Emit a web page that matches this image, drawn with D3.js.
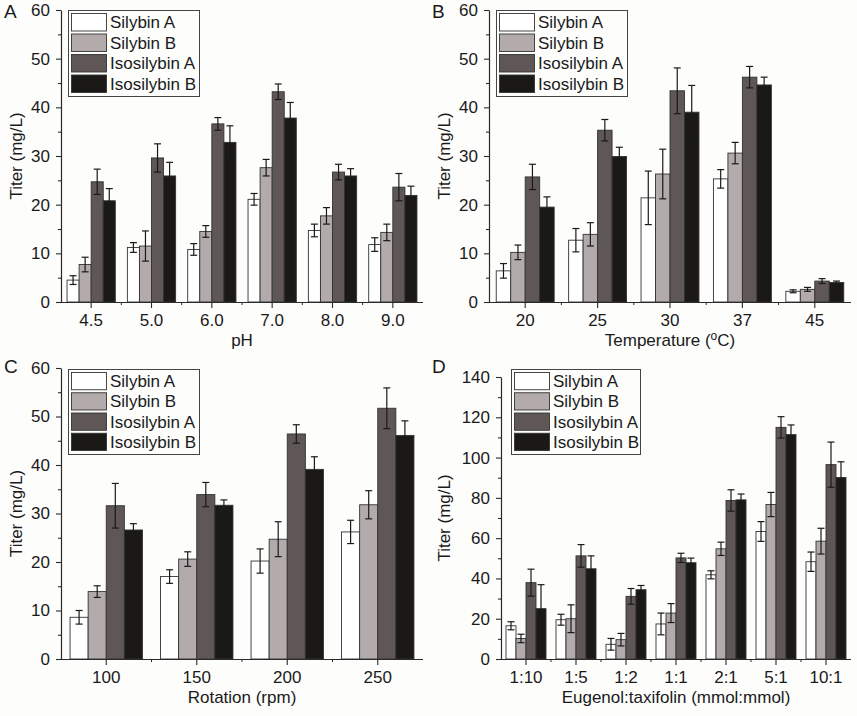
<!DOCTYPE html>
<html>
<head>
<meta charset="utf-8">
<script src="https://cdn.jsdelivr.net/npm/d3@7"></script>
<style>
  html, body { margin: 0; padding: 0; background: #fdfdfc; }
  svg { display: block; font-family: Arial, "Liberation Sans", sans-serif; }
</style>
</head>
<body>
<svg id="chart" width="857" height="716"></svg>
<script>
// ---------- DATA ----------
const seriesNames = ["Silybin A", "Silybin B", "Isosilybin A", "Isosilybin B"];
const seriesColors = ["#ffffff", "#b3abab", "#5f5756", "#1b1915"];

// Panel A: pH
const catsA = ["4.5", "5.0", "6.0", "7.0", "8.0", "9.0"];
const silybinA_A = [4.5, 11.2, 10.8, 21.1, 14.7, 11.8];
const silybinB_A = [7.7, 11.5, 14.5, 27.6, 17.7, 14.3];
const isoA_A     = [24.7, 29.6, 36.6, 43.2, 26.7, 23.6];
const isoB_A     = [20.8, 25.9, 32.8, 37.8, 25.9, 21.9];
const errSA_A = [0.9, 1.0, 1.2, 1.2, 1.3, 1.4];
const errSB_A = [1.5, 3.1, 1.2, 1.7, 1.7, 1.7];
const errIA_A = [2.6, 2.9, 1.3, 1.6, 1.6, 2.8];
const errIB_A = [2.5, 2.8, 3.4, 3.2, 1.5, 1.9];

// Panel B: Temperature
const catsB = ["20", "25", "30", "37", "45"];
const silybinA_B = [6.4, 12.7, 21.4, 25.3, 2.2];
const silybinB_B = [10.2, 13.9, 26.3, 30.6, 2.6];
const isoA_B     = [25.7, 35.3, 43.4, 46.2, 4.3];
const isoB_B     = [19.5, 29.9, 39.0, 44.6, 4.0];
const errSA_B = [1.5, 2.4, 5.5, 1.9, 0.3];
const errSB_B = [1.5, 2.4, 5.1, 2.2, 0.4];
const errIA_B = [2.6, 2.2, 4.7, 2.2, 0.5];
const errIB_B = [2.1, 1.9, 5.5, 1.6, 0.3];

// Panel C: Rotation
const catsC = ["100", "150", "200", "250"];
const silybinA_C = [8.6, 17.0, 20.2, 26.2];
const silybinB_C = [13.9, 20.6, 24.7, 31.8];
const isoA_C     = [31.6, 33.9, 46.4, 51.7];
const isoB_C     = [26.6, 31.7, 39.1, 46.1];
const errSA_C = [1.4, 1.4, 2.5, 2.4];
const errSB_C = [1.2, 1.5, 3.6, 2.9];
const errIA_C = [4.6, 2.5, 1.9, 4.2];
const errIB_C = [1.3, 1.1, 2.6, 3.0];

// Panel D: Eugenol:taxifolin
const catsD = ["1:10", "1:5", "1:2", "1:1", "2:1", "5:1", "10:1"];
const silybinA_D = [16.5, 19.5, 7.3, 17.4, 41.8, 63.3, 48.3];
const silybinB_D = [10.2, 20.0, 9.6, 22.8, 54.7, 76.7, 58.5];
const isoA_D     = [37.9, 51.2, 31.1, 50.2, 78.7, 115.0, 96.5];
const isoB_D     = [25.0, 44.8, 34.4, 47.8, 79.0, 111.4, 90.1];
const errSA_D = [2.0, 2.7, 2.9, 5.4, 2.0, 4.9, 4.8];
const errSB_D = [2.1, 6.9, 3.1, 4.7, 3.3, 6.0, 6.4];
const errIA_D = [6.7, 5.6, 3.9, 2.3, 5.3, 5.3, 11.2];
const errIB_D = [11.9, 6.4, 2.1, 2.3, 2.9, 4.8, 7.8];

// ---------- LAYOUT ----------
const panels = [
  { letter: "A", cats: catsA, vals: [silybinA_A, silybinB_A, isoA_A, isoB_A], errs: [errSA_A, errSB_A, errIA_A, errIB_A],
    yMax: 60, yStep: 10, xTitle: "pH", ox: 0, x0: 61, x1: 423, yTop: 10, yBot: 302, legend: [68, 10, 131, 86] },
  { letter: "B", cats: catsB, vals: [silybinA_B, silybinB_B, isoA_B, isoB_B], errs: [errSA_B, errSB_B, errIA_B, errIB_B],
    yMax: 60, yStep: 10, xTitle: "Temperature (oC)", ox: 428, x0: 489, x1: 851, yTop: 10, yBot: 302, legend: [496, 10, 131, 86] },
  { letter: "C", cats: catsC, vals: [silybinA_C, silybinB_C, isoA_C, isoB_C], errs: [errSA_C, errSB_C, errIA_C, errIB_C],
    yMax: 60, yStep: 10, xTitle: "Rotation (rpm)", ox: 0, x0: 61, x1: 423, yTop: 368, yBot: 659, legend: [68, 369, 131, 85] },
  { letter: "D", cats: catsD, vals: [silybinA_D, silybinB_D, isoA_D, isoB_D], errs: [errSA_D, errSB_D, errIA_D, errIB_D],
    yMax: 140, yStep: 20, xTitle: "Eugenol:taxifolin (mmol:mmol)", ox: 428, x0: 501, x1: 851, yTop: 377, yBot: 659, legend: [511, 369, 129, 85] }
];

const svg = d3.select("#chart");
const textColor = "#1a1a1a";
const axisColor = "#2a2a2a";
const FS = 17;

panels.forEach(p => {
  const g = svg.append("g");
  const x = d3.scaleBand().domain(p.cats).range([p.x0, p.x1]).paddingInner(0.2).paddingOuter(0.1);
  const xs = d3.scaleBand().domain(seriesNames).range([0, x.bandwidth()]);
  const y = d3.scaleLinear().domain([0, p.yMax]).range([p.yBot, p.yTop]);

  // bars
  seriesNames.forEach((s, si) => {
    g.append("g").selectAll("rect").data(p.cats).join("rect")
      .attr("x", (c) => x(c) + xs(s))
      .attr("y", (c, i) => y(p.vals[si][i]))
      .attr("width", xs.bandwidth())
      .attr("height", (c, i) => y(0) - y(p.vals[si][i]))
      .attr("fill", seriesColors[si])
      .attr("stroke", "#333")
      .attr("stroke-width", 0.9);
  });
  // error bars
  seriesNames.forEach((s, si) => {
    const eg = g.append("g").attr("stroke", "#1a1a1a").attr("stroke-width", 1.2).attr("fill", "none");
    p.cats.forEach((c, i) => {
      const cx = x(c) + xs(s) + xs.bandwidth() / 2;
      const v = p.vals[si][i], e = p.errs[si][i];
      const yl = y(v - e), yh = y(v + e);
      eg.append("line").attr("x1", cx).attr("x2", cx).attr("y1", yl).attr("y2", yh);
      eg.append("line").attr("x1", cx - 3.5).attr("x2", cx + 3.5).attr("y1", yl).attr("y2", yl);
      eg.append("line").attr("x1", cx - 3.5).attr("x2", cx + 3.5).attr("y1", yh).attr("y2", yh);
    });
  });

  // y axis
  const yAxis = d3.axisLeft(y).tickValues(d3.range(0, p.yMax + 0.001, p.yStep)).tickSize(5).tickPadding(6).tickSizeOuter(0);
  const ya = g.append("g").attr("transform", `translate(${p.x0},0)`).call(yAxis);
  const yMinor = d3.axisLeft(y).tickValues(d3.range(p.yStep / 2, p.yMax, p.yStep)).tickSize(3).tickFormat("").tickSizeOuter(0);
  const ym = g.append("g").attr("transform", `translate(${p.x0},0)`).call(yMinor);
  ym.select(".domain").remove();

  // x axis
  const xAxis = d3.axisBottom(x).tickSize(6).tickPadding(6).tickSizeOuter(0);
  const xa = g.append("g").attr("transform", `translate(0,${p.yBot})`).call(xAxis);
  xa.select(".domain").attr("d", `M${p.x0 - 3},0.5H${p.x1}`);
  // minor ticks at group boundaries
  const bounds = p.cats.slice(1).map(c => x(c) - x.step() * x.paddingInner() / 2);
  g.append("g").selectAll("line").data(bounds).join("line")
    .attr("x1", d => d).attr("x2", d => d)
    .attr("y1", p.yBot).attr("y2", p.yBot + 3)
    .attr("stroke", axisColor).attr("stroke-width", 1);

  [ya, ym, xa].forEach(a => {
    a.selectAll(".domain").attr("stroke", axisColor).attr("stroke-width", 1.2);
    a.selectAll(".tick line").attr("stroke", axisColor).attr("stroke-width", 1.1);
    a.selectAll(".tick text").attr("fill", textColor).style("font-size", FS + "px")
      .style("font-family", "Arial, 'Liberation Sans', sans-serif");
  });

  // axis titles
  if (p.letter === "B") {
    const t = g.append("text").attr("x", (p.x0 + p.x1) / 2).attr("y", p.yBot + 44)
      .attr("text-anchor", "middle").attr("fill", textColor).style("font-size", FS + "px");
    t.append("tspan").text("Temperature (");
    t.append("tspan").text("o").attr("dy", -6).style("font-size", "12px");
    t.append("tspan").text("C)").attr("dy", 6);
  } else {
    g.append("text").attr("x", (p.x0 + p.x1) / 2).attr("y", p.yBot + 44)
      .attr("text-anchor", "middle").attr("fill", textColor).style("font-size", FS + "px").text(p.xTitle);
  }
  g.append("text")
    .attr("transform", `translate(${p.ox + 22},${(p.yTop + p.yBot) / 2}) rotate(-90)`)
    .attr("text-anchor", "middle").attr("fill", textColor).style("font-size", FS + "px").text("Titer (mg/L)");

  // panel letter
  g.append("text").attr("x", p.ox + 4).attr("y", p.letter === "A" || p.letter === "B" ? 18 : 373)
    .attr("fill", textColor).style("font-size", "19px").text(p.letter);

  // legend
  const [lx, ly, lw, lh] = p.legend;
  const lg = g.append("g");
  lg.append("rect").attr("x", lx + 0.5).attr("y", ly + 0.5).attr("width", lw).attr("height", lh)
    .attr("fill", "#fdfdfc").attr("stroke", "#444").attr("stroke-width", 1);
  const rowH = (lh - 4) / 4;
  seriesNames.forEach((s, si) => {
    const ry = ly + 3 + si * rowH;
    lg.append("rect").attr("x", lx + 3.5).attr("y", ry + 0.5).attr("width", 35).attr("height", rowH - 3)
      .attr("fill", seriesColors[si]).attr("stroke", "#333").attr("stroke-width", 0.9);
    lg.append("text").attr("x", lx + 42).attr("y", ry + rowH / 2 - 1).attr("dy", "0.35em")
      .attr("fill", textColor).style("font-size", FS + "px").text(s);
  });
});
</script>
</body>
</html>
